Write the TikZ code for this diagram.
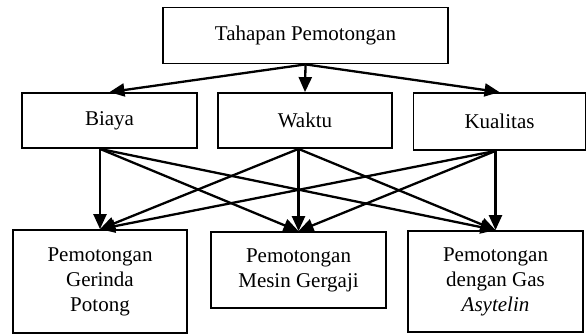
\documentclass[tikz,border=0pt]{standalone}
\usepackage{fontspec}
\setmainfont{Liberation Serif}
\usetikzlibrary{arrows.meta}
\begin{document}
\begin{tikzpicture}[x=1pt,y=-1pt,
  box/.style={draw, line width=1.8pt, align=center, inner sep=0pt, font=\fontsize{21}{25}\selectfont},
  conn/.style={line width=2.3pt, -{Triangle[length=15pt,width=13pt]}}]
\useasboundingbox (0,0) rectangle (587,335);
\node[box, minimum width=285pt, minimum height=56pt] (top) at (305.5,35.5) {Tahapan Pemotongan};
\node[box, minimum width=175pt, minimum height=55pt] (biaya) at (109.5,120.5) {Biaya};
\node[box, minimum width=174pt, minimum height=55pt] (waktu) at (305,120.5) {Waktu};
\node[box, minimum width=172pt, minimum height=57pt] (kual) at (499.5,121.5) {Kualitas};
\node[box, minimum width=174pt, minimum height=103pt] (ger) at (100,281.5) {Pemotongan\\Gerinda\\Potong};
\node[box, minimum width=175pt, minimum height=76pt] (mes) at (298.5,270) {Pemotongan\\Mesin Gergaji};
\node[box, minimum width=175pt, minimum height=101pt] (gas) at (495.5,281.5) {Pemotongan\\dengan Gas\\\textit{Asytelin}};
\draw[conn] (top.south) -- (biaya.north);
\draw[conn] (top.south) -- (waktu.north);
\draw[conn] (top.south) -- (kual.north);
\coordinate (b0) at (biaya.south -| ger.north);
\coordinate (w0) at (waktu.south -| mes.north);
\coordinate (k0) at (kual.south -| gas.north);
\foreach \s in {b0,w0,k0}{
  \draw[conn] (\s) -- (ger.north);
  \draw[conn] (\s) -- (mes.north);
  \draw[conn] (\s) -- (gas.north);
}
\end{tikzpicture}
\end{document}
